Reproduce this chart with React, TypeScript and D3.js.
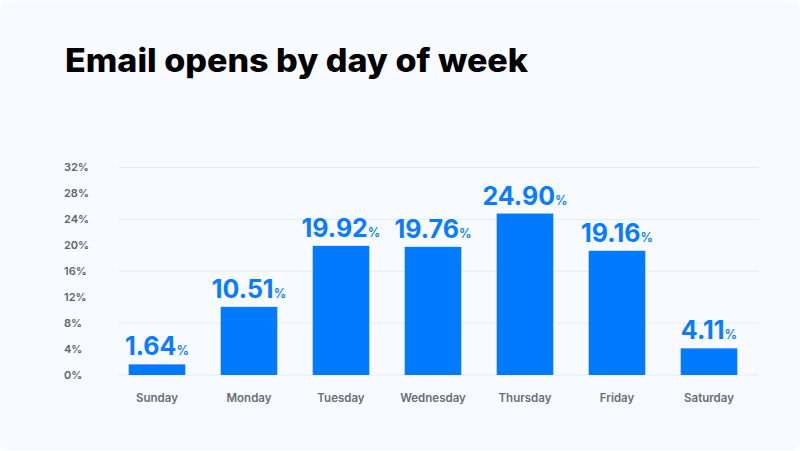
import React from "react";
import * as d3 from "d3";

const days = ["Sunday", "Monday", "Tuesday", "Wednesday", "Thursday", "Friday", "Saturday"];
const opens = [1.64, 10.51, 19.92, 19.76, 24.9, 19.16, 4.11];
const yTicks = [0, 4, 8, 12, 16, 20, 24, 28, 32];
const gridTicks = [0, 8, 16, 24, 32];
const title = "Email opens by day of week";

const W = 800;
const H = 451;
const FONT = "Inter, 'Open Sans', sans-serif";

export default function App() {
  const x = d3.scaleBand<string>().domain(days).range([111, 755]).paddingInner(0.385).paddingOuter(0.1925);
  const y = d3.scaleLinear().domain([0, 32]).range([375, 167.5]);

  return (
    <svg width={W} height={H} style={{ position: "absolute", left: 0, top: 0, display: "block" }}>
      <rect x={0} y={0} width={W} height={H} fill="#ffffff" />
      <rect x={0.5} y={0.5} width={W - 1} height={H - 1} rx={8} fill="#f7fbff" />
      <text x={65} y={72} fontFamily={FONT} fontWeight={800} fontSize={32} fill="#000" textLength={463} lengthAdjust="spacingAndGlyphs">
        {title}
      </text>
      {gridTicks.map((t) => (
        <line key={t} x1={118} x2={759} y1={y(t)} y2={y(t)} stroke="#e6ebf1" strokeWidth={1} />
      ))}
      {yTicks.map((t) => (
        <text key={t} x={64} y={y(t)} dy="0.35em" fontFamily={FONT} fontWeight={600} fontSize={11} fill="#5f6368">
          {`${t}%`}
        </text>
      ))}
      {days.map((d, i) => (
        <g key={d}>
          <rect x={x(d)} y={y(opens[i])} width={x.bandwidth()} height={y(0) - y(opens[i])} fill="#007aff" />
          <text x={(x(d) as number) + x.bandwidth() / 2} y={y(opens[i]) - 9} textAnchor="middle" fontFamily={FONT} fontWeight={700} fill="#0a7cff">
            <tspan fontSize={25}>{opens[i].toFixed(2)}</tspan>
            <tspan fontSize={12.5} fontWeight={600}>%</tspan>
          </text>
          <text x={(x(d) as number) + x.bandwidth() / 2} y={402} textAnchor="middle" fontFamily={FONT} fontWeight={600} fontSize={11.5} fill="#6a6d72">
            {d}
          </text>
        </g>
      ))}
    </svg>
  );
}
